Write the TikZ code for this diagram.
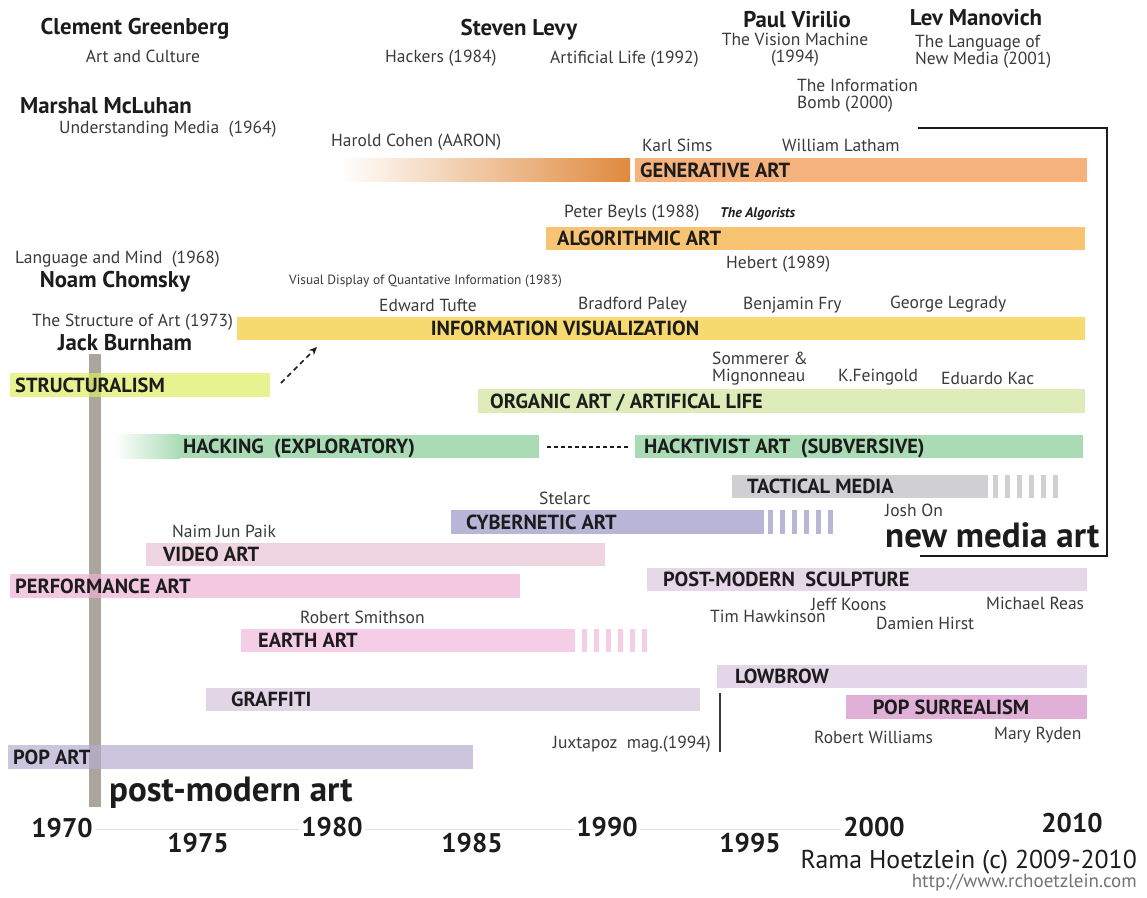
\documentclass[tikz,border=0pt]{standalone}
\usepackage{fontspec}
\setmainfont{PT Sans}
\usetikzlibrary{positioning,arrows.meta}

\definecolor{cohenc}{HTML}{E08A3E}
\definecolor{genc}{HTML}{F5B27C}
\definecolor{algoc}{HTML}{F8C373}
\definecolor{infoc}{HTML}{F6D96F}
\definecolor{structc}{HTML}{DDEC62}
\definecolor{organc}{HTML}{DDECB8}
\definecolor{hackc}{HTML}{A9DCB5}
\definecolor{tactc}{HTML}{D0D0D3}
\definecolor{cyberc}{HTML}{B9B5D7}
\definecolor{videoc}{HTML}{EDD4DE}
\definecolor{perfc}{HTML}{EEB1D4}
\definecolor{sculptc}{HTML}{E6D7E8}
\definecolor{earthc}{HTML}{F5CDE6}
\definecolor{lowc}{HTML}{E4D6E8}
\definecolor{graffc}{HTML}{E2D5E6}
\definecolor{popsurc}{HTML}{E0B0D9}
\definecolor{popc}{HTML}{B5AECF}
\definecolor{polec}{HTML}{ABA59E}
\definecolor{inkc}{HTML}{1C1C1C}
\definecolor{namec}{HTML}{3A3A3A}

\tikzset{
	author/.style={font=\fontsize{22.8}{25}\selectfont\bfseries, text=inkc, inner sep=0pt},
	book/.style={font=\fontsize{17.5}{17}\selectfont, text=namec, inner sep=0pt},
	tiny/.style={font=\fontsize{13.4}{15}\selectfont, text=namec, inner sep=0pt},
	band/.style={anchor=west, minimum height=23.5pt, inner sep=0pt},
	seethru/.style={fill opacity=.7},
	tag/.style={font=\fontsize{20.4}{22}\selectfont\bfseries, text=inkc, inner sep=0pt, anchor=west, text height=14.3pt, text depth=0pt},
	bigword/.style={font=\fontsize{35}{37}\selectfont\bfseries, text=inkc, inner sep=0pt},
	year/.style={font=\fontsize{27}{29}\selectfont\bfseries, text=inkc, fill=white, inner sep=2pt},
	frame/.style={line width=2.5pt, inkc, line join=miter},
	dotline/.style={line width=2pt, inkc, dash pattern=on 4pt off 3pt}
}

\begin{document}
\begin{tikzpicture}[x=1pt,y=-1pt]
	\useasboundingbox (0,0) rectangle (1147,897);
	\fill[polec] (89,354) rectangle (101,807);

	\node[author] (greenberg) at (135,29) {Clement Greenberg};
	\node[book] (artcult) at (143,56) {Art and Culture};
	\node[author, anchor=west] (mcluhan) at (20,106) {Marshal McLuhan};
	\node[book, anchor=west] (undmedia) at (59,129) {Understanding Media\ \ (1964)};
	\node[author] (levy) at (519,30) {Steven Levy};
	\node[book, anchor=west] (hackers) at (385,58) {Hackers (1984)};
	\node[book, anchor=west] (alife) at (550,59) {Artificial Life (1992)};
	\node[author] (virilio) at (797,20) {Paul Virilio};
	\node[book, align=center] (vismach) at (795,50) {The Vision Machine\\(1994)};
	\node[author] (manovich) at (976,18) {Lev Manovich};
	\node[book, align=left, anchor=west] (langnm) at (915,52) {The Language of\\New Media (2001)};
	\node[book, align=left, anchor=west] (infobomb) at (797,96) {The Information\\Bomb (2000)};

	\node[book, anchor=west] (langmind) at (15,259) {Language and Mind\ \ (1968)};
	\node[author] (chomsky) at (115,282) {Noam Chomsky};
	\node[book, anchor=west] (structart) at (32,322) {The Structure of Art (1973)};
	\node[author] (burnham) at (125,343) {Jack Burnham};

	\node[book, anchor=west] (cohenlbl) at (331,142) {Harold Cohen (AARON)};
	\node[band, left color=white, right color=cohenc, minimum width=290] (cohen) at (340,170) {};
	\node[band, fill=genc, minimum width=452] (gen) at (635,170) {};
	\node[tag, right=5pt of gen.west] (genlbl) {GENERATIVE ART};
	\node[book, anchor=west] (sims) at (642,145) {Karl Sims};
	\node[book, anchor=west] (latham) at (782,145) {William Latham};

	\node[band, fill=algoc, minimum width=539] (algo) at (546,238.5) {};
	\node[tag, right=11pt of algo.west] (algolbl) {ALGORITHMIC ART};
	\node[book, anchor=west] (beyls) at (564,213) {Peter Beyls (1988)};
	\node[tiny, font=\fontsize{14}{15}\selectfont\bfseries\itshape, text=inkc, anchor=west] (algorists) at (720,214) {The Algorists};
	\node[book, anchor=west] (hebert) at (726,264) {Hebert (1989)};

	\node[band, fill=infoc, minimum width=848] (info) at (237,328.5) {};
	\node[tag, anchor=center] (infolbl) at (565,328.5) {INFORMATION VISUALIZATION};
	\node[tiny, anchor=west] (tufte83) at (289,281) {Visual Display of Quantative Information (1983)};
	\node[book, anchor=west] (tufte) at (379,305) {Edward Tufte};
	\node[book, anchor=west] (paley) at (578,305) {Bradford Paley};
	\node[book, anchor=west] (fry) at (743,305) {Benjamin Fry};
	\node[book, anchor=west] (legrady) at (890,304) {George Legrady};

	\node[band, seethru, fill=structc, minimum width=260] (struct) at (10,385) {};
	\node[tag, right=5pt of struct.west] (structlbl) {STRUCTURALISM};
	\coordinate (arrs) at (281,383);
	\coordinate (arre) at (317,347);
	\draw[line width=1.6pt, inkc, dash pattern=on 5pt off 4pt, -{Stealth[length=8pt,width=7pt]}] (arrs) -- (arre);

	\node[band, fill=organc, minimum width=607] (organ) at (478,401) {};
	\node[tag, right=12pt of organ.west] (organlbl) {ORGANIC ART / ARTIFICAL LIFE};
	\node[book, align=left, anchor=west] (sommerer) at (712,368.5) {Sommerer \&\\Mignonneau};
	\node[book, anchor=west] (feingold) at (838,377) {K.Feingold};
	\node[book, anchor=west] (kac) at (941,378) {Eduardo Kac};

	\node[band, left color=white, right color=hackc, minimum width=65] (hackfade) at (115,446.5) {};
	\node[band, fill=hackc, minimum width=360] (hack) at (179,446.5) {};
	\node[tag] (hacklbl) at (183,446.5) {HACKING\ \ (EXPLORATORY)};
	\node[band, fill=hackc, minimum width=448] (hacktiv) at (635,446.5) {};
	\node[tag, right=9pt of hacktiv.west] (hacktivlbl) {HACKTIVIST ART\ \ (SUBVERSIVE)};
	\draw[dotline] ([xshift=8pt]hack.east) -- ([xshift=-4pt]hacktiv.west);

	\node[band, fill=tactc, minimum width=256] (tact) at (732,486.5) {};
	\node[tag, right=15pt of tact.west] (tactlbl) {TACTICAL MEDIA};
	\foreach \i in {0,...,5}
		\fill[tactc] (993+\i*12,475) rectangle ++(5,23);
	\node[book, anchor=west] (joshon) at (885,510) {Josh On};
	\node[bigword, anchor=west] (newmedia) at (885,535) {new media art};
	\coordinate (frtop) at (918,128);
	\coordinate (frcorner) at (1107,556);
	\coordinate (frbot) at (920,556);
	\draw[frame] (frtop) -| (frcorner) -- (frbot);

	\node[band, fill=cyberc, minimum width=313] (cyber) at (451,522) {};
	\node[tag, right=15pt of cyber.west] (cyberlbl) {CYBERNETIC ART};
	\foreach \i in {0,...,5}
		\fill[cyberc] (768+\i*12,510) rectangle ++(5,23.5);
	\node[book, anchor=west] (stelarc) at (539,498) {Stelarc};

	\node[band, fill=videoc, minimum width=459] (video) at (146,554.5) {};
	\node[tag, right=17pt of video.west] (videolbl) {VIDEO ART};
	\node[book, anchor=west] (paik) at (172,531) {Naim Jun Paik};

	\node[band, seethru, fill=perfc, minimum width=510] (perf) at (10,586) {};
	\node[tag, right=5pt of perf.west] (perflbl) {PERFORMANCE ART};

	\node[band, fill=sculptc, minimum width=440] (sculpt) at (647,579.5) {};
	\node[tag, right=16pt of sculpt.west] (sculptlbl) {POST-MODERN\ \ SCULPTURE};
	\node[book, anchor=west] (koons) at (811,604) {Jeff Koons};
	\node[book, anchor=west] (hawk) at (710,616) {Tim Hawkinson};
	\node[book, anchor=west] (hirst) at (876,623) {Damien Hirst};
	\node[book, anchor=west] (reas) at (986,603) {Michael Reas};

	\node[band, fill=earthc, minimum width=334] (earth) at (241,640.5) {};
	\node[tag, right=17pt of earth.west] (earthlbl) {EARTH ART};
	\foreach \i in {0,...,5}
		\fill[earthc] (582+\i*12,629) rectangle ++(5,23);
	\node[book, anchor=west] (smithson) at (300,617) {Robert Smithson};

	\node[band, fill=lowc, minimum width=370] (low) at (717,676.5) {};
	\node[tag, right=18pt of low.west] (lowlbl) {LOWBROW};

	\node[band, fill=graffc, minimum width=494] (graff) at (206,699.5) {};
	\node[tag, right=25pt of graff.west] (grafflbl) {GRAFFITI};

	\node[band, fill=popsurc, minimum width=241] (popsur) at (846,707) {};
	\node[tag, anchor=center] (popsurlbl) at (951,707) {POP SURREALISM};
	\node[book, anchor=west] (williams) at (814,737) {Robert Williams};
	\node[book, anchor=west] (ryden) at (994,735) {Mary Ryden};
	\node[book, anchor=east] (juxta) at (711,744) {Juxtapoz\ \ mag.(1994)};
	\coordinate (jxtop) at (720,693);
	\coordinate (jxbot) at (720,752);
	\draw[line width=1.2pt, namec] (jxtop) -- (jxbot);

	\node[band, seethru, fill=popc, minimum width=465] (pop) at (8,757) {};
	\node[tag, right=5pt of pop.west] (poplbl) {POP ART};
	\node[bigword, anchor=west] (pmart) at (109,793) {post-modern art};

	\draw[line width=1pt, black!12] (93,829) -- (845,829);
	\node[year] (y1970) at (62,828) {1970};
	\node[year] (y1975) at (198,843) {1975};
	\node[year] (y1980) at (332,827) {1980};
	\node[year] (y1985) at (472,843) {1985};
	\node[year] (y1990) at (607,827) {1990};
	\node[year] (y1995) at (750,843) {1995};
	\node[year] (y2000) at (874,827) {2000};
	\node[year] (y2010) at (1072,823) {2010};

	\node[font=\fontsize{25.8}{27}\selectfont, text=inkc, inner sep=0pt, anchor=east] (rama) at (1137,862) {Rama Hoetzlein (c) 2009-2010};
	\node[font=\fontsize{19}{21}\selectfont, text=black!55, inner sep=0pt, anchor=east] (url) at (1137,883) {http://www.rchoetzlein.com};
\end{tikzpicture}
\end{document}
